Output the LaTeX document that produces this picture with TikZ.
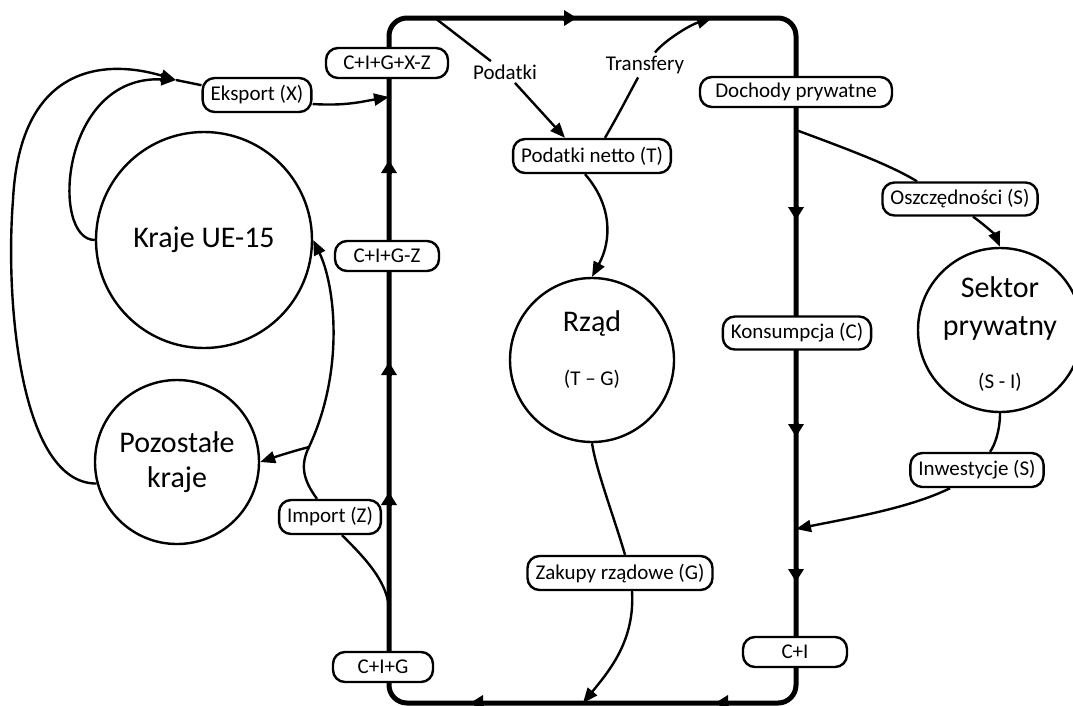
\documentclass[tikz,border=0pt]{standalone}
\usepackage{fontspec}
\setmainfont{Carlito}
\usetikzlibrary{arrows.meta,positioning}

\begin{document}
\begin{tikzpicture}[x=1pt, y=-1pt,
  pill/.style={draw, line width=2.4pt, fill=white, rounded corners=12pt, minimum height=34pt, inner xsep=8pt, font=\fontsize{21}{25}\selectfont},
  looptag/.style={pill, minimum height=30pt},
  sector/.style={draw, circle, line width=2.4pt, align=center, inner sep=0pt, font=\fontsize{30}{35}\selectfont},
  big/.style={font=\fontsize{30}{35}\selectfont, anchor=base},
  small/.style={font=\fontsize{21}{25}\selectfont, anchor=base},
  tag/.style={font=\fontsize{21}{25}\selectfont},
  flow/.style={line width=2.4pt, -{Triangle[length=15pt,width=12pt]}},
  link/.style={line width=2.4pt},
  circuit/.style={line width=5pt, rounded corners=18pt},
  dir/.style={line width=5pt, -{Triangle[length=13pt,width=15pt]}}
]
\useasboundingbox (0,0) rectangle (1073,705);
% obieg
\draw[circuit] (389,18) rectangle (796,703);
\foreach \y in {160,362,492} \draw[dir] (389,\y+14) -- (389,\y);
\foreach \y in {220,437,582} \draw[dir] (796,\y-14) -- (796,\y);
\draw[dir] (563,18) -- (577,18);
\foreach \x in {470,715} \draw[dir] (\x+14,703) -- (\x,703);
\coordinate (taxsrc) at (435,18);
\coordinate (trdst) at (712,18);
\coordinate (expdst) at (389,97);
\coordinate (impsrc) at (389,607);
\coordinate (dochsrc) at (796,130);
\coordinate (invdst) at (796,529);
\coordinate (govdst) at (583,703);
\coordinate (expjoin) at (176,80);
\coordinate (impjoin) at (309,447);

% sektory
\node[sector, minimum size=216pt] (kraje) at (204,240) {Kraje UE-15};
\node[sector, minimum size=164pt] (pozostale) at (177,462) {Pozostałe\\kraje};
\node[sector, minimum size=164pt] (rzad) at (592,360) {};
\node[big] (rzadlbl) at ([yshift=29pt]rzad.center) {Rząd};
\node[small] (rzadsub) at ([yshift=-25pt]rzad.center) {(T – G)};
\node[sector, minimum size=164pt] (sektor) at (1000,330) {};
\node[big] (sektorlbl) at ([yshift=33pt]sektor.center) {Sektor};
\node[big] (sektorlbl2) at ([yshift=-5pt]sektor.center) {prywatny};
\node[small] (sektorsub) at ([yshift=-58pt]sektor.center) {(S - I)};

% etykiety na obiegu
\node[looptag, minimum width=122pt] (cigxz) at (387,63) {C+I+G+X-Z};
\node[looptag, minimum width=104pt] (cigz) at (387,256) {C+I+G-Z};
\node[looptag, minimum width=100pt] (cig) at (383,667) {C+I+G};
\node[looptag, minimum width=192pt] (dochody) at (796,92) {Dochody prywatne};
\node[pill, minimum height=33pt] (konsum) at (797,333) {Konsumpcja (C)};
\node[looptag, minimum width=104pt] (ci) at (795,652) {C+I};

% przeplywy
\node[pill] (eksport) at (257,95) {Eksport (X)};
\node[pill] (imp) at (330,517) {Import (Z)};
\node[pill] (netto) at (592,156) {Podatki netto (T)};
\node[pill] (zakupy) at (620,573) {Zakupy rządowe (G)};
\node[pill, minimum height=33pt] (oszcz) at (960,199) {Oszczędności (S)};
\node[pill] (inwest) at (977,470) {Inwestycje (S)};
\node[tag] (podatki) at (505,72) {Podatki};
\node[tag] (transfery) at (645,65) {Transfery};

\draw[flow] (kraje.west) .. controls (50,240) and (60,75) .. (expjoin);
\draw[flow] (pozostale.195) .. controls (20,484) and (5,300) .. (13,200)
  .. controls (20,60) and (110,60) .. (expjoin);
\draw[link] (expjoin) -- (eksport.170);
\draw[flow] ([yshift=-9pt]eksport.east) .. controls (345,106) and (360,102) .. (expdst);

\draw[link] (impsrc) .. controls (386,580) and (365,558) .. ([xshift=12pt]imp.south);
\draw[link] ([xshift=-13pt]imp.north) .. controls (303,480) and (300,465) .. (impjoin);
\draw[flow] (impjoin) .. controls (290,452) and (275,457) .. (pozostale.east);
\draw[flow] (impjoin) .. controls (345,370) and (335,285) .. (kraje.east);

\draw[flow] (taxsrc) -- (podatki) -- ([xshift=-27pt]netto.north);
\draw[flow] ([xshift=13pt]netto.north) .. controls (620,112) and (630,92) .. (transfery)
  .. controls (665,40) and (690,25) .. (trdst);
\draw[flow] ([xshift=-7pt]netto.south) .. controls (612,205) and (612,240) .. (rzad.north);
\draw[link] (rzad.south) .. controls (596,470) and (615,520) .. ([xshift=5pt]zakupy.north);
\draw[flow] ([xshift=12pt]zakupy.south) .. controls (635,640) and (610,670) .. (govdst);

\draw[link] (dochsrc) .. controls (850,150) and (890,165) .. ([xshift=-43pt]oszcz.north);
\draw[flow] ([xshift=13pt]oszcz.south) .. controls (985,225) and (995,235) .. (sektor.north);
\draw[link] (sektor.south) .. controls (1000,430) and (995,445) .. ([xshift=13pt]inwest.north);
\draw[flow] ([xshift=-27pt]inwest.south) .. controls (910,508) and (850,518) .. (invdst);
\end{tikzpicture}
\end{document}
